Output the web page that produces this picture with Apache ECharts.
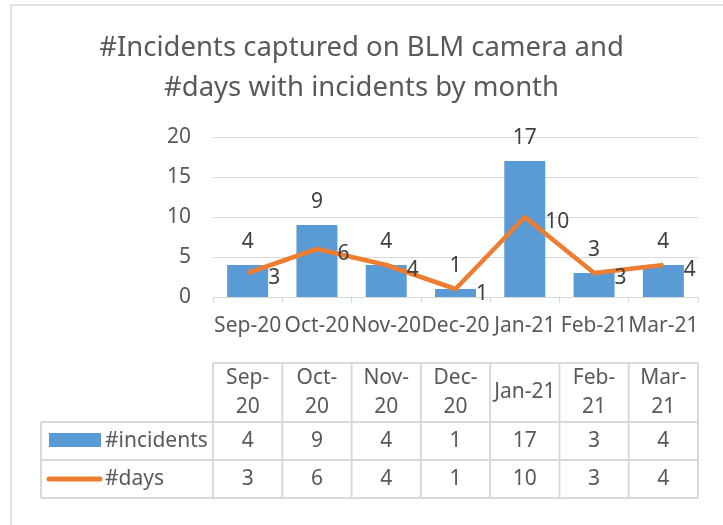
<!DOCTYPE html>
<html>
<head>
<meta charset="utf-8">
<script src="https://cdn.jsdelivr.net/npm/echarts@6/dist/echarts.min.js"></script>
<style>
  html, body { margin: 0; padding: 0; background: #fff; }
  #chart { width: 723px; height: 525px; }
</style>
</head>
<body>
<div id="chart"></div>
<script>
const months = ['Sep-20', 'Oct-20', 'Nov-20', 'Dec-20', 'Jan-21', 'Feb-21', 'Mar-21'];
const tableHeaders = ['Sep-\n20', 'Oct-\n20', 'Nov-\n20', 'Dec-\n20', 'Jan-21', 'Feb-\n21', 'Mar-\n21'];
const incidents = [4, 9, 4, 1, 17, 3, 4];
const days = [3, 6, 4, 1, 10, 3, 4];
const yTicks = { min: 0, max: 20, interval: 5 };

const FONT = '"Noto Sans", sans-serif';
const TXT = '#595959';
const LBL = '#404040';
const GRID = '#d9d9d9';
const BLUE = '#5B9BD5';
const ORANGE = '#ED7D31';

const chart = echarts.init(document.getElementById('chart'));

chart.setOption({
  backgroundColor: '#fff',
  animation: false,
  title: {
    text: '#Incidents captured on BLM camera and\n#days with incidents by month',
    left: 'center',
    top: 23,
    textStyle: { fontFamily: FONT, fontSize: 27.5, fontWeight: 'normal', color: TXT, lineHeight: 40 }
  },
  grid: { left: 213, right: 25, top: 137, height: 160 },
  xAxis: {
    type: 'category',
    data: months,
    axisLine: { lineStyle: { color: GRID, width: 1 } },
    axisTick: { show: true, length: 6, lineStyle: { color: GRID } },
    axisLabel: { fontFamily: FONT, fontSize: 21, color: TXT, margin: 19, interval: 0 }
  },
  yAxis: {
    type: 'value',
    min: yTicks.min,
    max: yTicks.max,
    interval: yTicks.interval,
    axisLine: { show: false },
    axisTick: { show: false },
    splitLine: { lineStyle: { color: GRID, width: 1 } },
    axisLabel: { fontFamily: FONT, fontSize: 21, color: TXT, margin: 22 }
  },
  series: [
    {
      name: '#incidents',
      type: 'bar',
      data: incidents,
      barWidth: 41,
      itemStyle: { color: BLUE },
      label: { show: true, position: 'top', distance: 12, fontFamily: FONT, fontSize: 21, color: LBL }
    },
    {
      name: '#days',
      type: 'line',
      data: days,
      symbol: 'circle',
      symbolSize: 1,
      itemStyle: { color: ORANGE },
      lineStyle: { color: ORANGE, width: 4.5 },
      label: { show: true, position: 'right', distance: 20, offset: [0, 5], fontFamily: FONT, fontSize: 21, color: LBL }
    }
  ]
});

// data table under the plot, aligned with the category columns
const centers = months.map((m, i) => chart.convertToPixel({ xAxisIndex: 0 }, i));
const colW = centers[1] - centers[0];
const tLeft = 41;
const cStart = centers[0] - colW / 2;
const cEnd = centers[centers.length - 1] + colW / 2;
const rows = [363, 422, 460, 498];
const lineStyle = { stroke: GRID, lineWidth: 2 };
const g = [];

// outer chart border
g.push({ type: 'rect', shape: { x: 11, y: 5, width: 800, height: 600 }, style: { fill: null, stroke: GRID, lineWidth: 1.5 }, silent: true });

// horizontal lines
g.push({ type: 'line', shape: { x1: cStart, y1: rows[0], x2: cEnd, y2: rows[0] }, style: lineStyle });
for (let r = 1; r < rows.length; r++) {
  g.push({ type: 'line', shape: { x1: tLeft, y1: rows[r], x2: cEnd, y2: rows[r] }, style: lineStyle });
}
// vertical lines
g.push({ type: 'line', shape: { x1: tLeft, y1: rows[1], x2: tLeft, y2: rows[3] }, style: lineStyle });
for (let i = 0; i <= months.length; i++) {
  const x = cStart + i * colW;
  g.push({ type: 'line', shape: { x1: x, y1: rows[0], x2: x, y2: rows[3] }, style: lineStyle });
}

const cellText = (x, y, text, lh) => ({
  type: 'text', x: x, y: y,
  style: { text: text, fontFamily: FONT, fontSize: 21, fill: TXT, align: 'center', verticalAlign: 'middle', lineHeight: lh || 26 }
});

months.forEach((m, i) => {
  g.push(cellText(centers[i], (rows[0] + rows[1]) / 2, tableHeaders[i], 29));
  g.push(cellText(centers[i], (rows[1] + rows[2]) / 2, String(incidents[i])));
  g.push(cellText(centers[i], (rows[2] + rows[3]) / 2, String(days[i])));
});

// legend keys
g.push({ type: 'rect', shape: { x: 49, y: 433, width: 52, height: 14 }, style: { fill: BLUE } });
g.push({ type: 'line', shape: { x1: 49, y1: 479, x2: 100, y2: 479 }, style: { stroke: ORANGE, lineWidth: 5, lineCap: 'round' } });
g.push({ type: 'text', x: 105, y: (rows[1] + rows[2]) / 2, style: { text: '#incidents', fontFamily: FONT, fontSize: 21, fill: TXT, verticalAlign: 'middle' } });
g.push({ type: 'text', x: 105, y: (rows[2] + rows[3]) / 2, style: { text: '#days', fontFamily: FONT, fontSize: 21, fill: TXT, verticalAlign: 'middle' } });

chart.setOption({ graphic: g });
</script>
</body>
</html>
